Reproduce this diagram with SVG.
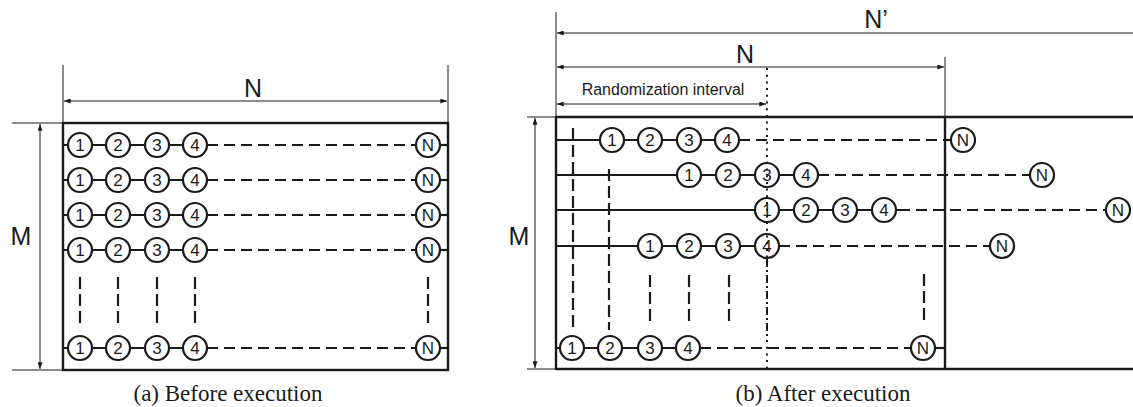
<svg xmlns="http://www.w3.org/2000/svg" width="1133" height="407" viewBox="0 0 1133 407">
<style>
.bg{fill:#fff}
.box{stroke:#1a1a1a;stroke-width:2.4;fill:none}
.thin{stroke:#1a1a1a;stroke-width:1;fill:none}
.row{stroke:#1a1a1a;stroke-width:2.2;fill:none}
.dash{stroke:#1a1a1a;stroke-width:2.2;fill:none;stroke-dasharray:11 6}
.vdash{stroke:#1a1a1a;stroke-width:2.2;fill:none;stroke-dasharray:12 5}
.dot{stroke:#1a1a1a;stroke-width:2;fill:none;stroke-dasharray:2 4.7}
.dashdot{stroke:#1a1a1a;stroke-width:2;fill:none;stroke-dasharray:8 3 2 3}
.c{fill:#fff;stroke:#1a1a1a;stroke-width:2.2}
.n{font-family:"Liberation Sans",Arial,sans-serif;font-size:17px;fill:#1a1a1a;text-anchor:middle}
.lbl{font-family:"Liberation Sans",Arial,sans-serif;font-size:25px;fill:#1a1a1a;text-anchor:middle}
.small{font-family:"Liberation Sans",Arial,sans-serif;font-size:16px;fill:#1a1a1a;text-anchor:middle}
.cap{font-family:"Liberation Serif","Times New Roman",serif;font-size:23px;fill:#1a1a1a;text-anchor:middle}
</style>
<defs>
<marker id="ae" viewBox="0 0 8 6" refX="8" refY="3" markerWidth="7" markerHeight="5" markerUnits="userSpaceOnUse" orient="auto"><path d="M0,0 L8,3 L0,6 Z" fill="#1a1a1a"/></marker>
<marker id="as" viewBox="0 0 8 6" refX="0" refY="3" markerWidth="7" markerHeight="5" markerUnits="userSpaceOnUse" orient="auto"><path d="M8,0 L0,3 L8,6 Z" fill="#1a1a1a"/></marker>
</defs>
<rect class="bg" x="0" y="0" width="1133" height="407"/>

<g id="connectors">
<line class="thin" x1="63" y1="65" x2="63" y2="123"/>
<line class="thin" x1="448" y1="65" x2="448" y2="123"/>
<line class="thin" x1="64" y1="101" x2="447" y2="101" marker-start="url(#as)" marker-end="url(#ae)"/>
<line class="thin" x1="12" y1="123" x2="63" y2="123"/>
<line class="thin" x1="12" y1="370" x2="63" y2="370"/>
<line class="thin" x1="40" y1="124" x2="40" y2="369" marker-start="url(#as)" marker-end="url(#ae)"/>
<rect class="box" x="63" y="123" width="385" height="247"/>

<g id="rows-a">
<line class="row" x1="63" y1="145" x2="195" y2="145"/><line class="dash" x1="207" y1="145" x2="416" y2="145"/><line class="row" x1="440" y1="145" x2="448" y2="145"/>
<line class="row" x1="63" y1="180" x2="195" y2="180"/><line class="dash" x1="207" y1="180" x2="416" y2="180"/><line class="row" x1="440" y1="180" x2="448" y2="180"/>
<line class="row" x1="63" y1="215" x2="195" y2="215"/><line class="dash" x1="207" y1="215" x2="416" y2="215"/><line class="row" x1="440" y1="215" x2="448" y2="215"/>
<line class="row" x1="63" y1="250" x2="195" y2="250"/><line class="dash" x1="207" y1="250" x2="416" y2="250"/><line class="row" x1="440" y1="250" x2="448" y2="250"/>
<line class="row" x1="63" y1="348" x2="195" y2="348"/><line class="dash" x1="207" y1="348" x2="416" y2="348"/><line class="row" x1="440" y1="348" x2="448" y2="348"/>
<line class="vdash" x1="80" y1="277" x2="80" y2="325"/>
<line class="vdash" x1="118" y1="277" x2="118" y2="325"/>
<line class="vdash" x1="157" y1="277" x2="157" y2="325"/>
<line class="vdash" x1="195" y1="277" x2="195" y2="325"/>
<line class="vdash" x1="428" y1="277" x2="428" y2="325"/>
</g>

<line class="thin" x1="556" y1="12" x2="556" y2="117"/>
<line class="thin" x1="945" y1="57" x2="945" y2="117"/>
<line class="thin" x1="557" y1="33" x2="1133" y2="33" marker-start="url(#as)"/>
<line class="thin" x1="557" y1="67" x2="944" y2="67" marker-start="url(#as)" marker-end="url(#ae)"/>
<line class="thin" x1="557" y1="104" x2="766" y2="104" marker-start="url(#as)" marker-end="url(#ae)"/>
<line class="thin" x1="527" y1="117" x2="556" y2="117"/>
<line class="thin" x1="527" y1="369" x2="556" y2="369"/>
<line class="thin" x1="535" y1="118" x2="535" y2="368" marker-start="url(#as)" marker-end="url(#ae)"/>
<line class="box" x1="556" y1="117" x2="1133" y2="117"/>
<line class="box" x1="556" y1="369" x2="1133" y2="369"/>
<line class="box" x1="556" y1="116" x2="556" y2="370"/>
<line class="box" x1="945" y1="116" x2="945" y2="370"/>

<g id="rows-b">
<line class="vdash" x1="573" y1="128" x2="573" y2="330"/>
<line class="vdash" x1="609" y1="169" x2="609" y2="330"/>
<line class="vdash" x1="650" y1="275" x2="650" y2="323"/>
<line class="vdash" x1="689" y1="275" x2="689" y2="323"/>
<line class="vdash" x1="729" y1="275" x2="729" y2="323"/>
<line class="vdash" x1="924" y1="274" x2="924" y2="325"/>
<line class="row" x1="556" y1="140" x2="727" y2="140"/><line class="dash" x1="739" y1="140" x2="945" y2="140"/><line class="row" x1="945" y1="140" x2="951" y2="140"/>
<line class="row" x1="556" y1="175" x2="806" y2="175"/><line class="dash" x1="818" y1="175" x2="1030" y2="175"/>
<line class="row" x1="556" y1="210" x2="910" y2="210"/><line class="dash" x1="916" y1="210" x2="1106" y2="210"/>
<line class="row" x1="556" y1="246" x2="767" y2="246"/><line class="dash" x1="779" y1="246" x2="990" y2="246"/>
<line class="row" x1="556" y1="348" x2="688" y2="348"/><line class="dash" x1="700" y1="348" x2="911" y2="348"/><line class="row" x1="935" y1="348" x2="945" y2="348"/>
</g>
</g>

<g id="a-r1"><circle class="c" cx="80" cy="145" r="12"/><text class="n" x="80" y="151">1</text><circle class="c" cx="118" cy="145" r="12"/><text class="n" x="118" y="151">2</text><circle class="c" cx="157" cy="145" r="12"/><text class="n" x="157" y="151">3</text><circle class="c" cx="195" cy="145" r="12"/><text class="n" x="195" y="151">4</text><circle class="c" cx="428" cy="145" r="12"/><text class="n" x="428" y="151">N</text></g>
<g id="a-r2"><circle class="c" cx="80" cy="180" r="12"/><text class="n" x="80" y="186">1</text><circle class="c" cx="118" cy="180" r="12"/><text class="n" x="118" y="186">2</text><circle class="c" cx="157" cy="180" r="12"/><text class="n" x="157" y="186">3</text><circle class="c" cx="195" cy="180" r="12"/><text class="n" x="195" y="186">4</text><circle class="c" cx="428" cy="180" r="12"/><text class="n" x="428" y="186">N</text></g>
<g id="a-r3"><circle class="c" cx="80" cy="215" r="12"/><text class="n" x="80" y="221">1</text><circle class="c" cx="118" cy="215" r="12"/><text class="n" x="118" y="221">2</text><circle class="c" cx="157" cy="215" r="12"/><text class="n" x="157" y="221">3</text><circle class="c" cx="195" cy="215" r="12"/><text class="n" x="195" y="221">4</text><circle class="c" cx="428" cy="215" r="12"/><text class="n" x="428" y="221">N</text></g>
<g id="a-r4"><circle class="c" cx="80" cy="250" r="12"/><text class="n" x="80" y="256">1</text><circle class="c" cx="118" cy="250" r="12"/><text class="n" x="118" y="256">2</text><circle class="c" cx="157" cy="250" r="12"/><text class="n" x="157" y="256">3</text><circle class="c" cx="195" cy="250" r="12"/><text class="n" x="195" y="256">4</text><circle class="c" cx="428" cy="250" r="12"/><text class="n" x="428" y="256">N</text></g>
<g id="a-r5"><circle class="c" cx="80" cy="348" r="12"/><text class="n" x="80" y="354">1</text><circle class="c" cx="118" cy="348" r="12"/><text class="n" x="118" y="354">2</text><circle class="c" cx="157" cy="348" r="12"/><text class="n" x="157" y="354">3</text><circle class="c" cx="195" cy="348" r="12"/><text class="n" x="195" y="354">4</text><circle class="c" cx="428" cy="348" r="12"/><text class="n" x="428" y="354">N</text></g>

<g id="b-r1"><circle class="c" cx="612" cy="140" r="12"/><text class="n" x="612" y="146">1</text><circle class="c" cx="650" cy="140" r="12"/><text class="n" x="650" y="146">2</text><circle class="c" cx="689" cy="140" r="12"/><text class="n" x="689" y="146">3</text><circle class="c" cx="727" cy="140" r="12"/><text class="n" x="727" y="146">4</text><circle class="c" cx="963" cy="140" r="12"/><text class="n" x="963" y="146">N</text></g>
<g id="b-r2"><circle class="c" cx="689" cy="175" r="12"/><text class="n" x="689" y="181">1</text><circle class="c" cx="728" cy="175" r="12"/><text class="n" x="728" y="181">2</text><circle class="c" cx="767" cy="175" r="12"/><text class="n" x="767" y="181">3</text><circle class="c" cx="806" cy="175" r="12"/><text class="n" x="806" y="181">4</text><circle class="c" cx="1042" cy="175" r="12"/><text class="n" x="1042" y="181">N</text></g>
<g id="b-r3"><circle class="c" cx="767" cy="210" r="12"/><text class="n" x="767" y="216">1</text><circle class="c" cx="806" cy="210" r="12"/><text class="n" x="806" y="216">2</text><circle class="c" cx="845" cy="210" r="12"/><text class="n" x="845" y="216">3</text><circle class="c" cx="884" cy="210" r="12"/><text class="n" x="884" y="216">4</text><circle class="c" cx="1118" cy="210" r="12"/><text class="n" x="1118" y="216">N</text></g>
<g id="b-r4"><circle class="c" cx="650" cy="246" r="12"/><text class="n" x="650" y="252">1</text><circle class="c" cx="689" cy="246" r="12"/><text class="n" x="689" y="252">2</text><circle class="c" cx="728" cy="246" r="12"/><text class="n" x="728" y="252">3</text><circle class="c" cx="767" cy="246" r="12"/><text class="n" x="767" y="252">4</text><circle class="c" cx="1002" cy="246" r="12"/><text class="n" x="1002" y="252">N</text></g>
<g id="b-r5"><circle class="c" cx="572" cy="348" r="12"/><text class="n" x="572" y="354">1</text><circle class="c" cx="610" cy="348" r="12"/><text class="n" x="610" y="354">2</text><circle class="c" cx="650" cy="348" r="12"/><text class="n" x="650" y="354">3</text><circle class="c" cx="688" cy="348" r="12"/><text class="n" x="688" y="354">4</text><circle class="c" cx="923" cy="348" r="12"/><text class="n" x="923" y="354">N</text></g>

<g id="divider">
<line class="dot" x1="767" y1="68" x2="767" y2="258"/>
<line class="dashdot" x1="767" y1="259" x2="767" y2="338"/>
<line class="dot" x1="767" y1="340" x2="767" y2="369"/>
</g>

<g id="labels">
<text class="lbl" x="253" y="97">N</text>
<text class="lbl" x="21" y="245">M</text>
<text class="lbl" x="745" y="63">N</text>
<text class="lbl" x="876" y="28">N’</text>
<text class="lbl" x="519" y="245">M</text>
<text class="small" x="663" y="95">Randomization interval</text>
<text class="cap" x="228" y="401">(a) Before execution</text>
<text class="cap" x="823" y="401">(b) After execution</text>
</g>
</svg>
